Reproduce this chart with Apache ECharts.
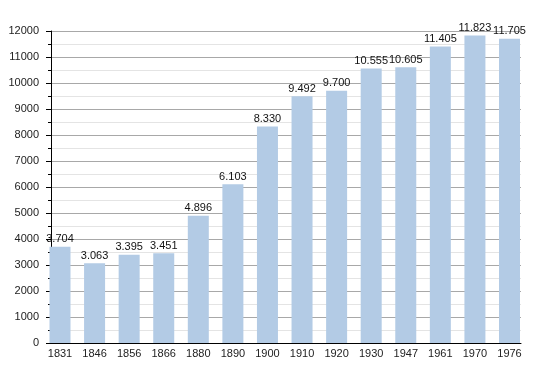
<!DOCTYPE html>
<html>
<head>
<meta charset="utf-8">
<script src="https://cdn.jsdelivr.net/npm/echarts@6/dist/echarts.min.js"></script>
<style>html,body{margin:0;padding:0;background:#fff}#c{width:550px;height:373px}</style>
</head>
<body>
<div id="c"></div>
<script>
const years = ['1831','1846','1856','1866','1880','1890','1900','1910','1920','1930','1947','1961','1970','1976'];
const population = [3704, 3063, 3395, 3451, 4896, 6103, 8330, 9492, 9700, 10555, 10605, 11405, 11823, 11705];
const yTicks = {min: 0, max: 12000, interval: 1000};

const font = 'Liberation Sans, Arial, sans-serif';
function fmt(v) {
  return String(v).replace(/\B(?=(\d{3})+(?!\d))/g, '.');
}
const chart = echarts.init(document.getElementById('c'), null, {renderer: 'canvas'});
chart.setOption({
  animation: false,
  backgroundColor: '#fff',
  grid: [
    {left: 51, right: 29, top: 31, bottom: 30},
    {left: 60, right: 40.5, top: 31, bottom: 30}
  ],
  xAxis: [
    {
      gridIndex: 0, type: 'category', data: years,
      axisLine: {show: true, lineStyle: {color: '#000', width: 1}},
      axisTick: {show: false}, axisLabel: {show: false}, splitLine: {show: false}
    },
    {
      gridIndex: 1, type: 'category', data: years, boundaryGap: false,
      axisLine: {show: false}, axisTick: {show: false},
      axisLabel: {show: true, color: '#222', fontSize: 11, fontFamily: font, margin: 5},
      splitLine: {show: false}
    }
  ],
  yAxis: [
    {
      gridIndex: 0, type: 'value', min: yTicks.min, max: yTicks.max, interval: yTicks.interval,
      axisLine: {show: true, lineStyle: {color: '#000', width: 1}},
      axisTick: {show: true, inside: false, length: 5, lineStyle: {color: '#000'}},
      minorTick: {show: true, splitNumber: 2, length: 3, lineStyle: {color: '#000'}},
      axisLabel: {color: '#222', fontSize: 11, fontFamily: font, margin: 12, formatter: v => String(v)},
      splitLine: {show: true, lineStyle: {color: '#a8a8a8', width: 1}},
      minorSplitLine: {show: true, lineStyle: {color: '#e4e4e4', width: 1}}
    },
    {
      gridIndex: 1, type: 'value', min: yTicks.min, max: yTicks.max, interval: yTicks.interval,
      show: false, splitLine: {show: false}
    }
  ],
  series: [{
    type: 'bar', xAxisIndex: 1, yAxisIndex: 1,
    data: population, barWidth: 21,
    itemStyle: {color: '#b3cbe5'},
    label: {
      show: true, position: 'top', distance: 2,
      color: '#111', fontSize: 11, fontFamily: font,
      formatter: p => fmt(p.value)
    }
  }]
});
</script>
</body>
</html>
